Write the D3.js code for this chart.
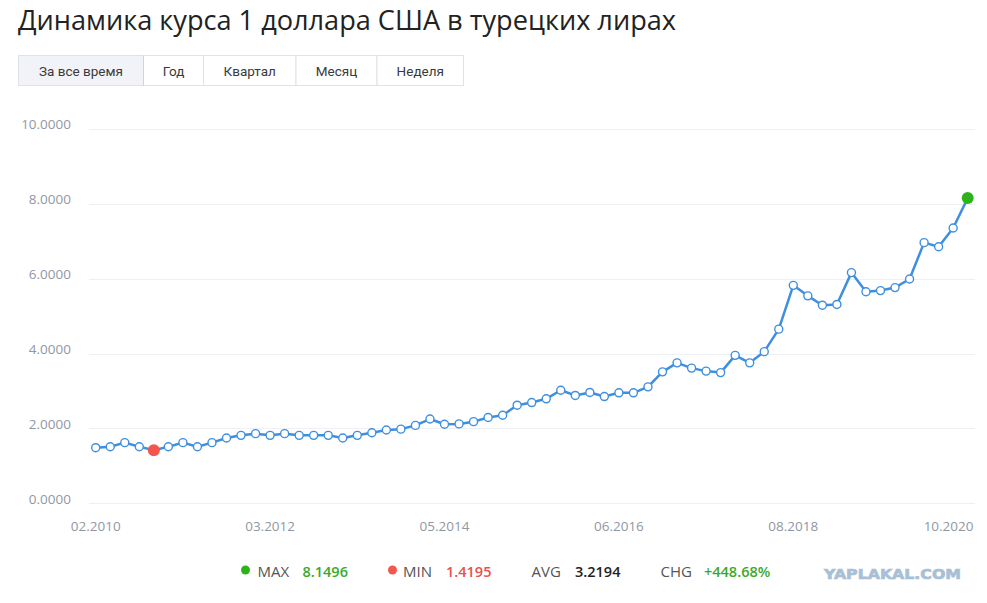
<!DOCTYPE html>
<html><head><meta charset="utf-8">
<script src="https://cdn.jsdelivr.net/npm/d3@7"></script>
<style>
html,body{margin:0;padding:0;background:#fff;}
svg{display:block;}
</style></head>
<body>
<svg id="chart" width="987" height="603"></svg>
<script>
const title = "Динамика курса 1 доллара США в турецких лирах";
const tabs = ["За все время","Год","Квартал","Месяц","Неделя"];
const values = [1.4853,1.51,1.62,1.51,1.4195,1.51,1.62,1.51,1.62,1.744,1.815,1.86,1.815,1.86,1.815,1.815,1.815,1.744,1.815,1.885,1.957,1.98,2.08,2.25,2.11,2.12,2.18,2.29,
2.35,2.62,2.69,2.79,3.02,2.88,2.96,2.85,2.95,2.95,3.11,3.51,3.75,3.61,3.53,3.49,3.95,3.75,4.05,4.65,5.82,5.54,5.29,5.31,6.16,5.65,5.68,5.76,5.99,6.96,6.85,7.35,8.1496];
const xTickIndex = [0,12,24,36,48,60];
const xTickLabels = ["02.2010","03.2012","05.2014","06.2016","08.2018","10.2020"];
const yTicks = [0,2,4,6,8,10];
const stats = [
  {label:"MAX", value:"8.1496", dot:"#2db31a", color:"#3aaa2a"},
  {label:"MIN", value:"1.4195", dot:"#f5554f", color:"#e5534b"},
  {label:"AVG", value:"3.2194", dot:null, color:"#222"},
  {label:"CHG", value:"+448.68%", dot:null, color:"#3aaa2a"}
];

const svg = d3.select("#chart");
const blue = "#3f8fe0";

// Title
svg.append("text").attr("x",18).attr("y",30)
  .attr("font-family","'Open Sans', 'Noto Sans', sans-serif").attr("font-size",27)
  .attr("fill","#222").attr("textLength",658).attr("lengthAdjust","spacingAndGlyphs").text(title);

// Tabs
const tabW = [125,60,92.5,81,86.5];
let tx = 18.5;
const tabG = svg.append("g");
tabs.forEach((t,i)=>{
  const g = tabG.append("g");
  g.append("rect").attr("x",tx).attr("y",55.5).attr("width",tabW[i]).attr("height",30)
    .attr("fill", i===0 ? "#f1f3f8" : "#fff").attr("stroke","#dfe2e8");
  g.append("text").attr("x",tx+tabW[i]/2).attr("y",75.5).attr("text-anchor","middle")
    .attr("font-family","Roboto, sans-serif").attr("font-size",13.5).attr("fill","#3a3a3a").text(t);
  tx += tabW[i];
});
tabG.append("line").attr("x1",143.5).attr("x2",143.5).attr("y1",55.5).attr("y2",85.5).attr("stroke","#cfd4dd");

// Scales
const x = d3.scaleLinear().domain([0, values.length-1]).range([95.7, 967.7]);
const y = d3.scaleLinear().domain([0,10]).range([503.3, 128.8]);

// Grid + y labels
const yAxis = svg.append("g");
yTicks.forEach(v=>{
  yAxis.append("line").attr("x1",89).attr("x2",975).attr("y1",Math.round(y(v))+0.5).attr("y2",Math.round(y(v))+0.5)
    .attr("stroke","#eef0f3").attr("stroke-width",1);
  yAxis.append("text").attr("x",71).attr("y",y(v)+0.5).attr("text-anchor","end")
    .attr("font-family","'Open Sans', sans-serif").attr("font-size",13.5).attr("fill","#9197a3")
    .text(d3.format(".4f")(v));
});

// X labels
const xAxis = svg.append("g");
xTickIndex.forEach((idx,i)=>{
  const last = i===xTickIndex.length-1;
  xAxis.append("text").attr("x", last ? 973.5 : x(idx)).attr("y",531)
    .attr("text-anchor", last ? "end" : "middle")
    .attr("font-family","'Open Sans', sans-serif").attr("font-size",13.5).attr("fill","#9197a3")
    .text(xTickLabels[i]);
});

// Line
const line = d3.line().x((d,i)=>x(i)).y(d=>y(d));
svg.append("path").datum(values).attr("d",line).attr("fill","none")
  .attr("stroke",blue).attr("stroke-width",2.5).attr("stroke-linejoin","round");

const minV = d3.min(values), maxV = d3.max(values);
const minI = values.indexOf(minV), maxI = values.indexOf(maxV);

svg.append("g").selectAll("circle").data(values.map((v,i)=>({v,i})).filter(d=>d.i!==minI && d.i!==maxI))
  .join("circle").attr("cx",d=>x(d.i)).attr("cy",d=>y(d.v)).attr("r",4)
  .attr("fill","#fff").attr("stroke",blue).attr("stroke-width",1.4);

svg.append("circle").attr("cx",x(minI)).attr("cy",y(minV)).attr("r",6).attr("fill","#f5554f");
svg.append("circle").attr("cx",x(maxI)).attr("cy",y(maxV)).attr("r",6).attr("fill","#2db31a");

// Legend
const legPos = [{dot:245.5,lab:257.5,val:302.5},{dot:392.5,lab:403,val:446},{dot:null,lab:531.5,val:575},{dot:null,lab:660.5,val:704}];
stats.forEach((s,i)=>{
  const p = legPos[i];
  if (s.dot) svg.append("circle").attr("cx",p.dot).attr("cy",570).attr("r",4.5).attr("fill",s.dot);
  svg.append("text").attr("x",p.lab).attr("y",577).attr("font-family","'Open Sans', sans-serif")
    .attr("font-size",15).attr("fill","#555").text(s.label);
  svg.append("text").attr("x",p.val).attr("y",577).attr("font-family","'Open Sans', sans-serif")
    .attr("font-size",14.5).attr("font-weight",600).attr("fill",s.color).text(s.value);
});

// Watermark
svg.append("text").attr("x",824).attr("y",579).attr("font-family","'DejaVu Sans', sans-serif")
  .attr("font-size",14).attr("font-weight",900).attr("fill","#a8c0d6")
  .attr("stroke","#a8c0d6").attr("stroke-width",0.7)
  .attr("textLength",137).attr("lengthAdjust","spacingAndGlyphs").text("YAPLAKAL.COM");
</script>
</body></html>
